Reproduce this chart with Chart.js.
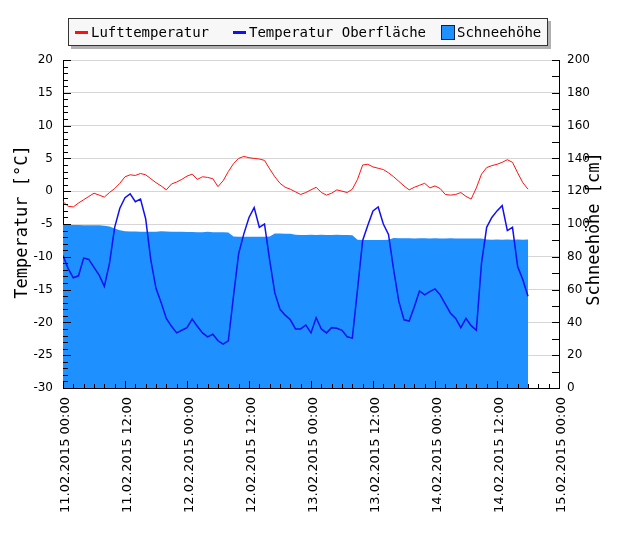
<!DOCTYPE html>
<html>
<head>
<meta charset="utf-8">
<script src="https://cdn.jsdelivr.net/npm/chart.js@4"></script>
<style>
body { margin: 0; background: #fff; }
#wrap { position: relative; width: 630px; height: 548px; }
#legend { position: absolute; left: 68px; top: 18px; width: 478px; height: 26px; border: 1px solid #333; background: #f7f7f7; box-shadow: 3px 3px 0 #b0b0b0; font: 14px "DejaVu Sans Mono", monospace; color: #000; }
.item { position: absolute; top: 0; height: 26px; display: flex; align-items: center; }
.dash { width: 13px; height: 3px; margin-right: 3px; }
.box { width: 12px; height: 13px; border: 1px solid #102040; background: #1e90ff; margin-right: 2px; }
</style>
</head>
<body>
<div id="wrap">
  <canvas id="chart" width="630" height="548"></canvas>
  <div id="legend">
    <div class="item" style="left:6px"><span class="dash" style="background:#ff1010"></span>Lufttemperatur</div>
    <div class="item" style="left:164px"><span class="dash" style="background:#1010f0"></span>Temperatur Oberfläche</div>
    <div class="item" style="left:372px"><span class="box"></span>Schneehöhe</div>
  </div>
</div>
<script>
// hours since 11.02.2015 00:00
const hours = [0,1,2,3,4,5,6,7,8,9,10,11,12,13,14,15,16,17,18,19,20,21,22,23,24,25,26,27,28,29,
    30,31,32,33,34,35,36,37,38,39,40,41,42,43,44,45,46,47,48,49,50,51,52,53,54,55,56,57,58,59,
    60,61,62,63,64,65,66,67,68,69,70,71,72,73,74,75,76,77,78,79,80,81,82,83,84,85,86,87,88,89,90];

const x_tick_labels = ['11.02.2015 00:00', '11.02.2015 12:00', '12.02.2015 00:00', '12.02.2015 12:00',
    '13.02.2015 00:00', '13.02.2015 12:00', '14.02.2015 00:00', '14.02.2015 12:00', '15.02.2015 00:00'];

// Lufttemperatur (°C)
const air_temp = [-1.6,-2.3,-2.4,-1.8,-1.3,-0.8,-0.3,-0.6,-0.9,-0.2,
    0.4,1.2,2.2,2.5,2.4,2.7,2.5,1.9,1.3,0.8,
    0.2,1.1,1.4,1.8,2.3,2.6,1.8,2.2,2.1,1.9,
    0.7,1.6,3.0,4.2,5.0,5.3,5.1,5.0,4.9,4.7,
    3.4,2.2,1.2,0.6,0.3,-0.1,-0.5,-0.2,0.2,0.6,
    -0.2,-0.6,-0.3,0.2,0.0,-0.2,0.3,1.8,4.0,4.1,
    3.7,3.5,3.3,2.8,2.2,1.5,0.8,0.2,0.6,0.9,
    1.2,0.5,0.8,0.4,-0.5,-0.6,-0.5,-0.2,-0.8,-1.2,
    0.5,2.6,3.6,3.9,4.1,4.4,4.8,4.4,2.8,1.3,
    0.3];

// Temperatur Oberfläche (°C)
const surface_temp = [-9.8,-11.8,-13.2,-12.9,-10.2,-10.4,-11.6,-12.8,-14.5,-11.0,
    -5.5,-2.6,-1.0,-0.4,-1.6,-1.2,-4.2,-10.5,-14.8,-17.0,
    -19.4,-20.6,-21.6,-21.2,-20.8,-19.5,-20.6,-21.6,-22.2,-21.8,
    -22.8,-23.3,-22.8,-16.0,-9.5,-6.5,-4.0,-2.5,-5.5,-5.0,
    -10.5,-15.5,-18.0,-18.9,-19.6,-21.0,-21.0,-20.4,-21.6,-19.3,
    -21.0,-21.6,-20.8,-20.9,-21.2,-22.2,-22.4,-15.0,-7.5,-5.2,
    -3.0,-2.4,-5.0,-6.6,-12.0,-16.8,-19.6,-19.8,-17.6,-15.2,
    -15.8,-15.3,-14.9,-15.8,-17.2,-18.6,-19.4,-20.8,-19.4,-20.5,
    -21.2,-11.0,-5.5,-4.0,-3.0,-2.2,-6.0,-5.5,-11.5,-13.5,
    -16.0];

// Schneehöhe (cm)
const snow_depth = [99.5,99.5,99.4,99.4,99.3,99.3,99.2,99.2,99.0,
    98.4,97.2,96.2,
    95.6,95.5,95.4,95.3,95.3,95.2,95.3,95.6,95.4,95.3,95.2,95.2,95.1,95.1,95.0,95.0,95.2,95.0,94.9,94.9,94.8,
    92.4,92.3,92.3,92.2,92.3,92.2,92.3,92.4,
    94.2,94.2,94.1,94.0,
    93.4,93.3,93.3,93.4,93.3,93.5,93.3,93.3,93.5,93.3,93.3,93.2,
    90.4,90.3,90.3,90.2,90.3,90.3,90.4,
    91.4,91.3,91.3,91.3,91.2,91.3,91.3,91.2,91.3,91.2,91.2,91.3,91.2,91.1,91.2,91.1,91.1,
    91.1,90.5,90.4,90.5,90.4,90.5,90.4,90.5,90.4,90.6];

const tick_font = { family: 'DejaVu Sans', size: 12 };

// tick marks drawn on the inside of the plot frame
const inner_ticks = {
    id: 'inner_ticks',
    afterDraw(chart) {
        const { ctx, chartArea, scales } = chart;
        ctx.save();
        ctx.strokeStyle = '#000';
        ctx.lineWidth = 1;
        ctx.beginPath();
        for (let v = -30; v <= 20; v++) {
            const y = Math.round(scales.y.getPixelForValue(v)) + 0.5;
            const len = v % 5 === 0 ? 8 : 5;
            ctx.moveTo(chartArea.left, y);
            ctx.lineTo(chartArea.left + len, y);
        }
        for (let v = 0; v <= 200; v += 10) {
            const y = Math.round(scales.y2.getPixelForValue(v)) + 0.5;
            ctx.moveTo(chartArea.right, y);
            ctx.lineTo(chartArea.right - 7, y);
        }
        for (let h = 0; h <= 96; h += 2) {
            const x = Math.round(scales.x.getPixelForValue(h)) + 0.5;
            const len = h % 12 === 0 ? 7 : 4;
            ctx.moveTo(x, chartArea.bottom);
            ctx.lineTo(x, chartArea.bottom - len);
        }
        ctx.stroke();
        ctx.restore();
    }
};

// axis titles
function draw_title(ctx, text, x, y) {
    ctx.save();
    ctx.fillStyle = '#000';
    ctx.font = '17px "DejaVu Sans Mono"';
    ctx.textAlign = 'center';
    ctx.textBaseline = 'middle';
    ctx.translate(x, y);
    ctx.rotate(-Math.PI / 2);
    ctx.fillText(text, 0, 0);
    ctx.restore();
}

const axis_titles = {
    id: 'axis_titles',
    afterDraw(chart) {
        draw_title(chart.ctx, 'Temperatur [°C]', 23, 222);
        draw_title(chart.ctx, 'Schneehöhe [cm]', 595, 229);
    }
};

new Chart(document.getElementById('chart'), {
    type: 'line',
    data: {
        labels: hours,
        datasets: [{
            label: 'Lufttemperatur',
            data: air_temp,
            yAxisID: 'y',
            borderColor: '#ff1010',
            borderWidth: 1,
            pointRadius: 0,
            fill: false
        }, {
            label: 'Temperatur Oberfläche',
            data: surface_temp,
            yAxisID: 'y',
            borderColor: '#1010f0',
            borderWidth: 1.5,
            pointRadius: 0,
            fill: false
        }, {
            label: 'Schneehöhe',
            data: snow_depth,
            yAxisID: 'y2',
            borderWidth: 0,
            borderColor: 'rgba(0,0,0,0)',
            backgroundColor: '#1e90ff',
            pointRadius: 0,
            fill: 'start'
        }]
    },
    options: {
        responsive: false,
        animation: false,
        devicePixelRatio: 1,
        layout: { padding: { top: 60, left: 0, right: 0, bottom: 0 } },
        plugins: {
            legend: { display: false },
            tooltip: { enabled: false }
        },
        scales: {
            x: {
                type: 'linear',
                min: 0,
                max: 96,
                grid: { display: false, drawTicks: false },
                border: { display: true, color: '#000', width: 1 },
                ticks: {
                    stepSize: 12,
                    autoSkip: false,
                    minRotation: 90,
                    maxRotation: 90,
                    padding: 9,
                    labelOffset: 3,
                    color: '#000',
                    font: { family: 'DejaVu Sans', size: 13 },
                    callback: (value) => x_tick_labels[value / 12]
                },
                afterFit: (s) => { s.height = 160; }
            },
            y: {
                position: 'left',
                min: -30,
                max: 20,
                grid: { color: '#d6d6d6', drawTicks: false },
                border: { display: true, color: '#000', width: 1 },
                ticks: { stepSize: 5, padding: 10, color: '#000', font: tick_font },
                afterFit: (s) => { s.width = 63; }
            },
            y2: {
                position: 'right',
                min: 0,
                max: 200,
                grid: { drawOnChartArea: false, drawTicks: false },
                border: { display: true, color: '#000', width: 1 },
                ticks: { stepSize: 10, padding: 8, color: '#000', font: tick_font },
                afterFit: (s) => { s.width = 71; }
            }
        }
    },
    plugins: [inner_ticks, axis_titles]
});
</script>
</body>
</html>
